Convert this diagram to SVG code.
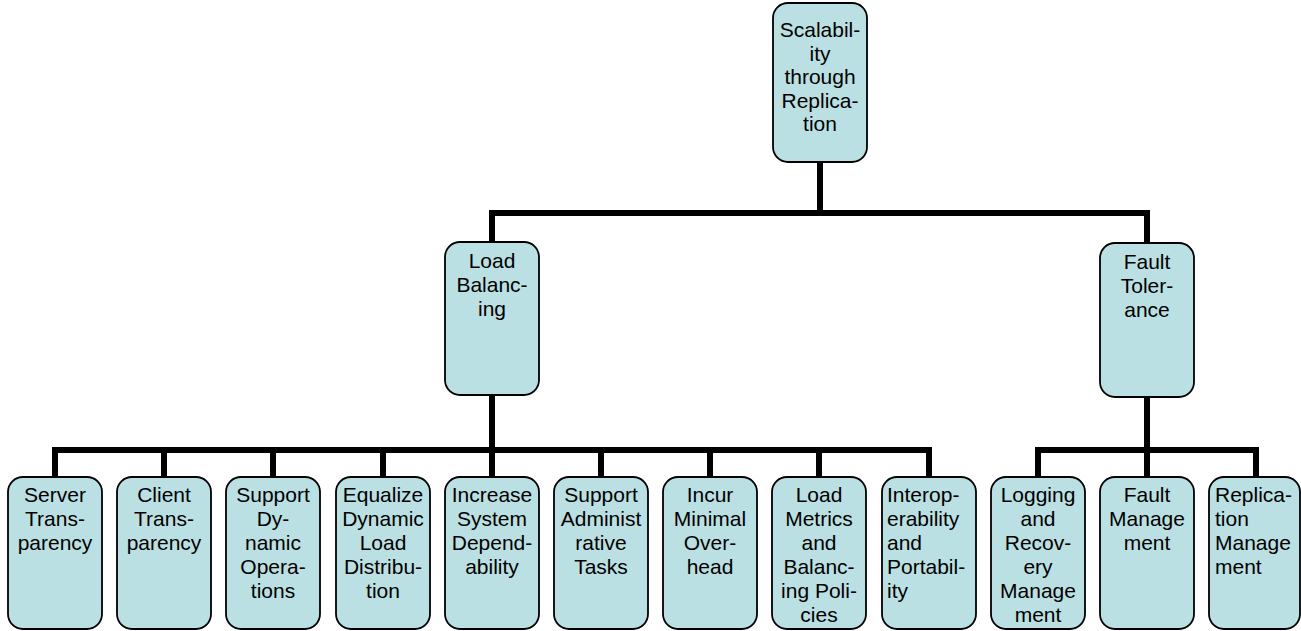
<svg xmlns="http://www.w3.org/2000/svg" width="1301" height="631" viewBox="0 0 1301 631">
<style>
.box{fill:#bbe0e3;stroke:#000;stroke-width:1.8}
.t{font-family:"Liberation Sans",Arial,sans-serif;font-size:21px;fill:#000;text-anchor:middle}
.l{text-anchor:start}
.c{fill:none;stroke:#000;stroke-width:6;stroke-linejoin:miter;stroke-linecap:butt}
</style>
<rect width="1301" height="631" fill="#fff"/>
<g id="connectors">
<path class="c" d="M820,162 V213"/>
<path class="c" d="M492,242 V213 H1147 V243"/>
<path class="c" d="M492,395 V477"/>
<path class="c" d="M55,477 V450 H929 V477"/>
<path class="c" d="M164,450 V477 M273,450 V477 M383,450 V477 M601,450 V477 M710,450 V477 M819,450 V477"/>
<path class="c" d="M1147,397 V477"/>
<path class="c" d="M1038,477 V450 H1256 V477"/>
</g>
<g id="n-root">
<rect class="box" x="773" y="3" width="94" height="159" rx="15"/>
<text class="t"><tspan x="820" y="37">Scalabil-</tspan><tspan x="820" y="60.6">ity</tspan><tspan x="820" y="84.2">through</tspan><tspan x="820" y="107.8">Replica-</tspan><tspan x="820" y="131.4">tion</tspan></text>
</g>
<g id="n-lb">
<rect class="box" x="445" y="242" width="94" height="153" rx="15"/>
<text class="t"><tspan x="492" y="268">Load</tspan><tspan x="492" y="292">Balanc-</tspan><tspan x="492" y="316">ing</tspan></text>
</g>
<g id="n-ft">
<rect class="box" x="1100" y="243" width="94" height="154" rx="15"/>
<text class="t"><tspan x="1147" y="269">Fault</tspan><tspan x="1147" y="293">Toler-</tspan><tspan x="1147" y="317">ance</tspan></text>
</g>
<g id="n-server">
<rect class="box" x="8" y="477" width="94" height="152" rx="15"/>
<text class="t"><tspan x="55" y="502">Server</tspan><tspan x="55" y="526">Trans-</tspan><tspan x="55" y="550">parency</tspan></text>
</g>
<g id="n-client">
<rect class="box" x="117" y="477" width="94" height="152" rx="15"/>
<text class="t"><tspan x="164" y="502">Client</tspan><tspan x="164" y="526">Trans-</tspan><tspan x="164" y="550">parency</tspan></text>
</g>
<g id="n-dynops">
<rect class="box" x="226" y="477" width="94" height="152" rx="15"/>
<text class="t"><tspan x="273" y="502">Support</tspan><tspan x="273" y="526">Dy-</tspan><tspan x="273" y="550">namic</tspan><tspan x="273" y="574">Opera-</tspan><tspan x="273" y="598">tions</tspan></text>
</g>
<g id="n-equalize">
<rect class="box" x="336" y="477" width="94" height="152" rx="15"/>
<text class="t"><tspan x="383" y="502">Equalize</tspan><tspan x="383" y="526">Dynamic</tspan><tspan x="383" y="550">Load</tspan><tspan x="383" y="574">Distribu-</tspan><tspan x="383" y="598">tion</tspan></text>
</g>
<g id="n-depend">
<rect class="box" x="445" y="477" width="94" height="152" rx="15"/>
<text class="t"><tspan x="492" y="502">Increase</tspan><tspan x="492" y="526">System</tspan><tspan x="492" y="550">Depend-</tspan><tspan x="492" y="574">ability</tspan></text>
</g>
<g id="n-admin">
<rect class="box" x="554" y="477" width="94" height="152" rx="15"/>
<text class="t"><tspan x="601" y="502">Support</tspan><tspan x="601" y="526">Administ</tspan><tspan x="601" y="550">rative</tspan><tspan x="601" y="574">Tasks</tspan></text>
</g>
<g id="n-overhead">
<rect class="box" x="663" y="477" width="94" height="152" rx="15"/>
<text class="t"><tspan x="710" y="502">Incur</tspan><tspan x="710" y="526">Minimal</tspan><tspan x="710" y="550">Over-</tspan><tspan x="710" y="574">head</tspan></text>
</g>
<g id="n-metrics">
<rect class="box" x="772" y="477" width="94" height="152" rx="15"/>
<text class="t"><tspan x="819" y="502">Load</tspan><tspan x="819" y="526">Metrics</tspan><tspan x="819" y="550">and</tspan><tspan x="819" y="574">Balanc-</tspan><tspan x="819" y="598">ing Poli-</tspan><tspan x="819" y="622">cies</tspan></text>
</g>
<g id="n-interop">
<rect class="box" x="882" y="477" width="94" height="152" rx="15"/>
<text class="t l"><tspan x="887" y="502">Interop-</tspan><tspan x="887" y="526">erability</tspan><tspan x="887" y="550">and</tspan><tspan x="887" y="574">Portabil-</tspan><tspan x="887" y="598">ity</tspan></text>
</g>
<g id="n-logging">
<rect class="box" x="991" y="477" width="94" height="152" rx="15"/>
<text class="t"><tspan x="1038" y="502">Logging</tspan><tspan x="1038" y="526">and</tspan><tspan x="1038" y="550">Recov-</tspan><tspan x="1038" y="574">ery</tspan><tspan x="1038" y="598">Manage</tspan><tspan x="1038" y="622">ment</tspan></text>
</g>
<g id="n-faultmgmt">
<rect class="box" x="1100" y="477" width="94" height="152" rx="15"/>
<text class="t"><tspan x="1147" y="502">Fault</tspan><tspan x="1147" y="526">Manage</tspan><tspan x="1147" y="550">ment</tspan></text>
</g>
<g id="n-replmgmt">
<rect class="box" x="1209" y="477" width="91" height="152" rx="15"/>
<text class="t l"><tspan x="1215" y="502">Replica-</tspan><tspan x="1215" y="526">tion</tspan><tspan x="1215" y="550">Manage</tspan><tspan x="1215" y="574">ment</tspan></text>
</g>
</svg>
